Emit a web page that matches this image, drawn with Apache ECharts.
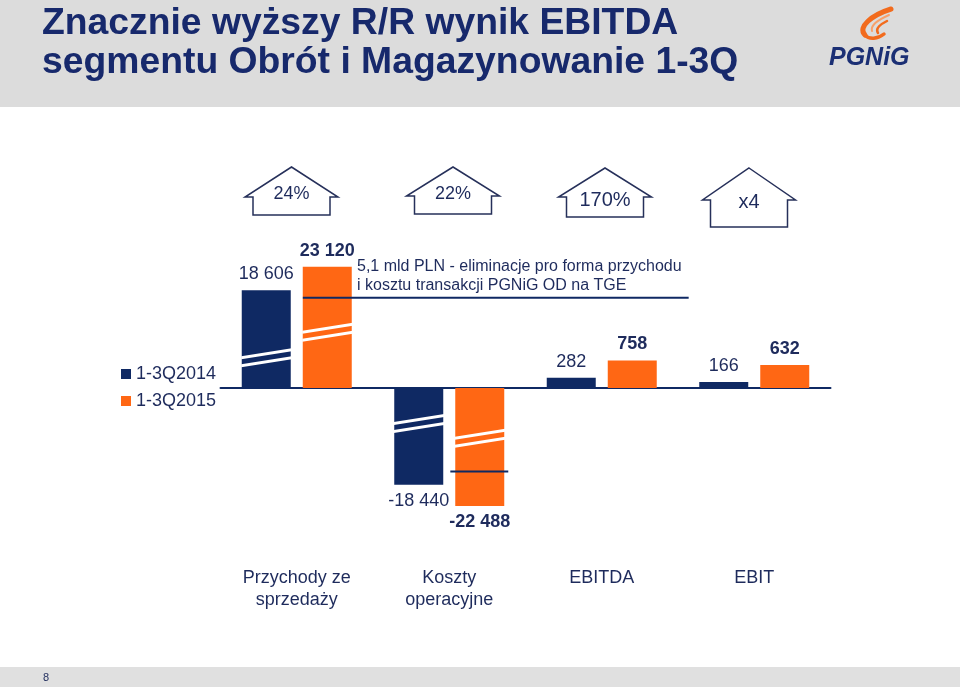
<!DOCTYPE html>
<html>
<head>
<meta charset="utf-8">
<script src="https://cdn.jsdelivr.net/npm/echarts@6/dist/echarts.min.js"></script>
<style>
html, body { margin: 0; padding: 0; background: #fff; }
#main { width: 960px; height: 687px; }
</style>
</head>
<body>
<div id="main"></div>
<script>
// dane
var categories = ['Przychody ze\nsprzedaży', 'Koszty\noperacyjne', 'EBITDA', 'EBIT'];
var values2014 = [18606, -18440, 282, 166];
var values2015 = [23120, -22488, 758, 632];
// skala: 0 = duże wartości (słupki z przerwą), 1 = małe wartości
var scaleOf = [0, 0, 1, 1];
var growthLabels = ['24%', '22%', '170%', 'x4'];
// poziomy linii "eliminacja pro forma" (przychody, koszty)
var eliminationLevels = [17200, -15900];

var NAVY = '#0f2963', ORANGE = '#ff6714', TEXT = '#1e2b5c', TITLE = '#17296c';
var FONT = "'Liberation Sans', Arial, sans-serif";

// jednostek na piksel, wspólna linia zera na y=388
var bigHalf = 171 * 190.5, smallHalf = 171 * 27.5;

function fmt(v) {
    var s = String(Math.abs(v)).replace(/\B(?=(\d{3})+(?!\d))/g, ' ');
    return (v < 0 ? '-' : '') + s;
}

function barSeries(name, values, axis, color, bold) {
    return {
        name: name,
        type: 'bar',
        xAxisIndex: axis,
        yAxisIndex: axis,
        barWidth: 49,
        barGap: '24.5%',
        itemStyle: { color: color },
        label: {
            show: true,
            distance: 7,
            fontSize: 18,
            fontFamily: FONT,
            fontWeight: bold ? 'bold' : 'normal',
            color: TEXT,
            formatter: function (p) { return fmt(p.value); }
        },
        data: values.map(function (v, i) {
            if (scaleOf[i] !== axis) return '-';
            return { value: v, label: { position: v < 0 ? 'bottom' : 'top' } };
        })
    };
}

// przerwy na dużych słupkach (ułamek wysokości słupka), [kategoria][rok]
var breakFrac = [[0.31, 0.46], [0.367, 0.426]];
var breakData = [];
categories.forEach(function (c, i) {
    if (scaleOf[i] === 0) {
        breakData.push([i, values2014[i], 0]);
        breakData.push([i, values2015[i], 1]);
    }
});

// zakres linii eliminacji w szerokościach kategorii względem środka
var elimSpan = [[0.04, 2.57], [0.007, 0.387]];
var elimData = eliminationLevels.map(function (v, i) { return [i, v]; });

var myChart = echarts.init(document.getElementById('main'));

var houseX = [291.5, 453, 605, 749];
var houseTop = [167, 167, 168, 168];
var houseEave = [197, 196, 197, 200];
var houseBottom = [215, 214, 217, 227];
var houseTextY = [194, 194, 200, 202];
var houseFont = [18, 18, 20, 20];

function curve(p, color, w) {
    return {
        type: 'bezierCurve',
        shape: { x1: p[0], y1: p[1], cpx1: p[2], cpy1: p[3], cpx2: p[4], cpy2: p[5], x2: p[6], y2: p[7] },
        style: { stroke: color, lineWidth: w, fill: null, lineCap: 'round' }
    };
}

var graphics = [
    { type: 'rect', shape: { x: 0, y: 0, width: 960, height: 107 }, style: { fill: '#dcdcdc' }, z: -10 },
    { type: 'rect', shape: { x: 0, y: 667, width: 960, height: 20 }, style: { fill: '#e0e0e0' }, z: -10 },
    { type: 'text', x: 42, y: 24, style: { text: 'Znacznie wyższy R/R wynik EBITDA', fontSize: 37.3, fontWeight: 'bold', fontFamily: FONT, fill: TITLE, verticalAlign: 'middle' } },
    { type: 'text', x: 42, y: 63, style: { text: 'segmentu Obrót i Magazynowanie 1-3Q', fontSize: 37.3, fontWeight: 'bold', fontFamily: FONT, fill: TITLE, verticalAlign: 'middle' } },
    // logo
    curve([891, 9, 872, 15, 857, 27, 865, 35], '#f26b1d', 5),
    curve([865, 35, 869, 40, 878, 39, 884, 34], '#f26b1d', 3.5),
    curve([889, 15, 880, 19, 870, 25, 872, 31], '#f7a06a', 2),
    curve([887, 21, 881, 24, 875, 28, 878, 33], '#f26b1d', 2.5),
    { type: 'text', x: 829, y: 58, style: { text: 'PGNiG', fontSize: 25, fontWeight: 'bold', fontStyle: 'italic', fontFamily: FONT, fill: '#1b2f74', verticalAlign: 'middle' } },
    // adnotacja
    { type: 'text', x: 357, y: 267, style: { text: '5,1 mld PLN - eliminacje pro forma przychodu', fontSize: 16, fontFamily: FONT, fill: TEXT, verticalAlign: 'middle' } },
    { type: 'text', x: 357, y: 286, style: { text: 'i kosztu transakcji PGNiG OD na TGE', fontSize: 16, fontFamily: FONT, fill: TEXT, verticalAlign: 'middle' } },
    { type: 'text', x: 43, y: 678, style: { text: '8', fontSize: 11, fontFamily: FONT, fill: TEXT, verticalAlign: 'middle' } }
];

growthLabels.forEach(function (t, i) {
    var cx = houseX[i], e = houseEave[i], b = houseBottom[i];
    graphics.push({
        type: 'polygon',
        shape: { points: [[cx, houseTop[i]], [cx + 46.5, e], [cx + 38.5, e], [cx + 38.5, b], [cx - 38.5, b], [cx - 38.5, e], [cx - 46.5, e]] },
        style: { fill: '#fff', stroke: '#26305a', lineWidth: 1.5 }
    });
    graphics.push({
        type: 'text', x: cx, y: houseTextY[i],
        style: { text: t, fontSize: houseFont[i], fontFamily: FONT, fill: TEXT, align: 'center', verticalAlign: 'middle' }
    });
});

var option = {
    animation: false,
    backgroundColor: '#fff',
    textStyle: { fontFamily: FONT },
    graphic: graphics,
    legend: {
        data: ['1-3Q2014', '1-3Q2015'],
        orient: 'vertical',
        left: 121,
        top: 364,
        padding: 0,
        itemWidth: 10,
        itemHeight: 10,
        itemGap: 7,
        icon: 'rect',
        selectedMode: false,
        textStyle: { fontSize: 18, lineHeight: 20, color: TEXT, fontFamily: FONT }
    },
    grid: { left: 220.5, right: 129.5, top: 217, bottom: 128 },
    xAxis: [
        {
            type: 'category',
            data: categories,
            position: 'bottom',
            axisLine: { onZero: true, lineStyle: { color: NAVY, width: 2 } },
            axisTick: { show: false },
            axisLabel: { show: false }
        },
        {
            type: 'category',
            data: categories,
            position: 'bottom',
            axisLine: { show: false, onZero: false },
            axisTick: { show: false },
            axisLabel: { fontSize: 18, lineHeight: 22, color: TEXT, margin: 8, fontFamily: FONT }
        }
    ],
    yAxis: [
        { type: 'value', min: -bigHalf, max: bigHalf, show: false },
        { type: 'value', min: -smallHalf, max: smallHalf, show: false }
    ],
    series: [
        barSeries('1-3Q2014', values2014, 0, NAVY, false),
        barSeries('1-3Q2015', values2015, 0, ORANGE, true),
        barSeries('1-3Q2014', values2014, 1, NAVY, false),
        barSeries('1-3Q2015', values2015, 1, ORANGE, true),
        {
            type: 'custom',
            xAxisIndex: 0,
            yAxisIndex: 0,
            silent: true,
            z: 5,
            data: breakData,
            renderItem: function (params, api) {
                var cat = api.value(0), yr = api.value(2);
                var end = api.coord([cat, api.value(1)]);
                var base = api.coord([cat, 0]);
                var yc = base[1] + (end[1] - base[1]) * breakFrac[cat][yr];
                var xc = base[0] + (yr ? 30.5 : -30.5);
                var children = [-4, 4].map(function (d) {
                    var yl = yc + d + 4, yr2 = yc + d - 4;
                    return {
                        type: 'polygon',
                        shape: { points: [[xc - 25, yl - 1.5], [xc + 25.5, yr2 - 1.5], [xc + 25.5, yr2 + 1.5], [xc - 25, yl + 1.5]] },
                        style: { fill: '#fff' }
                    };
                });
                return { type: 'group', children: children };
            }
        },
        {
            type: 'custom',
            xAxisIndex: 0,
            yAxisIndex: 0,
            silent: true,
            z: 6,
            data: elimData,
            renderItem: function (params, api) {
                var p = api.coord([api.value(0), api.value(1)]);
                var band = api.size([1, 0])[0];
                var span = elimSpan[params.dataIndex];
                return {
                    type: 'line',
                    shape: { x1: p[0] + span[0] * band, y1: p[1], x2: p[0] + span[1] * band, y2: p[1] },
                    style: { stroke: NAVY, lineWidth: 2 }
                };
            }
        }
    ]
};

myChart.setOption(option);
</script>
</body>
</html>
